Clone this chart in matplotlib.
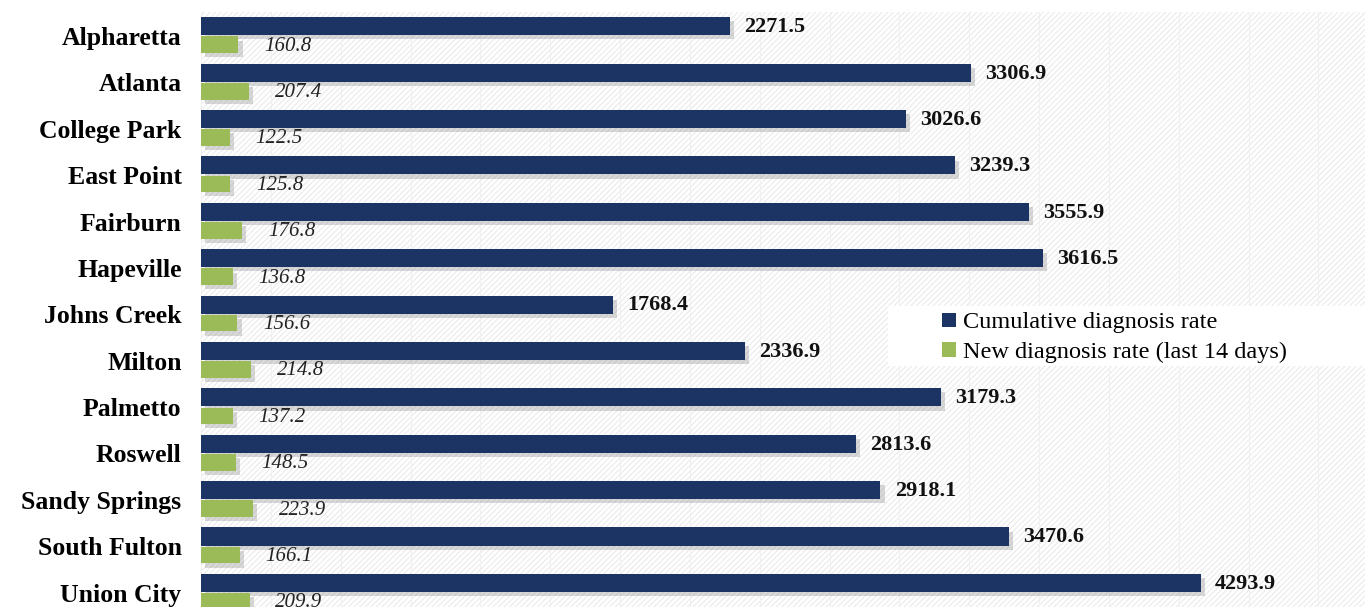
import matplotlib
matplotlib.use('Agg')
import matplotlib.pyplot as plt
import matplotlib.patheffects as pe
from matplotlib.patches import Rectangle
import numpy as np

plt.rcParams['font.family'] = ['Liberation Serif', 'DejaVu Serif']
plt.rcParams['hatch.color'] = '#ebebeb'
plt.rcParams['hatch.linewidth'] = 0.8

cities = ['Alpharetta', 'Atlanta', 'College Park', 'East Point', 'Fairburn',
          'Hapeville', 'Johns Creek', 'Milton', 'Palmetto', 'Roswell',
          'Sandy Springs', 'South Fulton', 'Union City']
cumulative = [2271.5, 3306.9, 3026.6, 3239.3, 3555.9, 3616.5, 1768.4,
              2336.9, 3179.3, 2813.6, 2918.1, 3470.6, 4293.9]
new_14d = [160.8, 207.4, 122.5, 125.8, 176.8, 136.8, 156.6,
           214.8, 137.2, 148.5, 223.9, 166.1, 209.9]

navy = '#1c3463'
green = '#9bbb59'

fig = plt.figure(figsize=(13.65, 6.07), dpi=100)
ax = fig.add_axes([201 / 1365, 0.0, 1 - 201 / 1365, 1 - 12 / 607])

# hatched background
ax.add_patch(Rectangle((0, 0), 1, 1, transform=ax.transAxes, facecolor='white',
                       hatch='//////', edgecolor='#ebebeb', linewidth=0, zorder=0))
for gx in np.arange(0, 5001, 300):
    ax.axvline(gx, color='#f0f0f0', lw=0.8, zorder=0.5)

y = np.arange(len(cities))
shadow = [pe.SimplePatchShadow(offset=(3, -3), shadow_rgbFace='#666666', alpha=0.25),
          pe.Normal()]
b1 = ax.barh(y - 0.21, cumulative, height=0.39, color=navy, zorder=2,
             label='Cumulative diagnosis rate')
b2 = ax.barh(y + 0.19, new_14d, height=0.36, color=green, zorder=2,
             label='New diagnosis rate (last 14 days)')
for b in list(b1) + list(b2):
    b.set_path_effects(shadow)

for yi, c in zip(y, cumulative):
    ax.text(c + 62, yi - 0.19, f'{c:.1f}', va='center', ha='left',
            fontsize=16, fontweight='bold', color='#111111', zorder=3)
for yi, n in zip(y, new_14d):
    ax.text(n + 110, yi + 0.22, f'{n:.1f}', va='center', ha='left',
            fontsize=15, fontstyle='italic', color='#222222', zorder=3)

ax.set_xlim(0, 5000)
ax.set_ylim(12.31, -0.517)
ax.set_yticks(y)
ax.set_yticklabels(cities, fontsize=18.5, fontweight='bold')
ax.tick_params(axis='y', length=0, pad=14)
ax.set_xticks([])
for s in ax.spines.values():
    s.set_visible(False)

# legend box
ax.add_patch(Rectangle((888 / 1365, 1 - 366 / 607), 1, 60 / 607,
                       transform=fig.transFigure, facecolor='white',
                       edgecolor='none', zorder=4))
leg = ax.legend(loc='upper left', bbox_to_anchor=(0.637, 0.495), fontsize=17.5,
                frameon=False, handlelength=0.55, handleheight=0.55,
                handletextpad=0.3, labelspacing=0.36, borderpad=0, borderaxespad=0)
leg.set_zorder(5)
for h in leg.legend_handles:
    h.set_path_effects([])

fig.savefig('out.png', dpi=100)
